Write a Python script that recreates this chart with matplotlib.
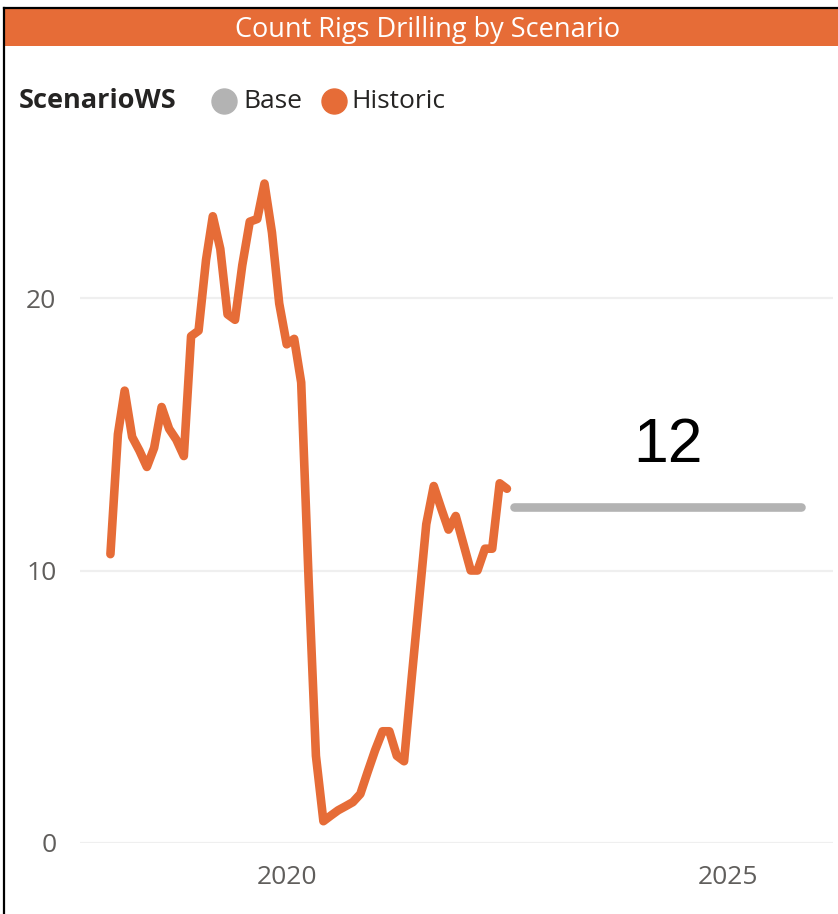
import matplotlib
matplotlib.use("Agg")
import matplotlib.pyplot as plt
import matplotlib.dates as mdates
from matplotlib.lines import Line2D
from matplotlib.patches import Rectangle
import pandas as pd

# figure in pixels
W, H = 838, 914
DPI = 100

ORANGE = "#E66C37"
GREY = "#B3B3B3"
TEXT_GREY = "#605E5C"
FONT = "Open Sans"

# ---- data ----
historic_start = "2018-01-01"
historic_values = [
    10.6, 15.0, 16.6, 14.9, 14.4, 13.8, 14.5, 16.0, 15.2, 14.8,
    14.2, 18.6, 18.8, 21.4, 23.0, 21.8, 19.4, 19.2, 21.2, 22.8,
    22.9, 24.2, 22.4, 19.8, 18.3, 18.5, 16.9, 9.6, 3.2, 0.8,
    1.0, 1.2, 1.35, 1.5, 1.8, 2.6, 3.4, 4.1, 4.1, 3.2,
    3.0, 6.0, 8.8, 11.7, 13.1, 12.3, 11.5, 12.0, 11.0, 10.0,
    10.0, 10.8, 10.8, 13.2, 13.0,
]
historic_dates = pd.date_range(historic_start, periods=len(historic_values), freq="MS")

base_dates = pd.to_datetime(["2022-08-01", "2025-11-01"])
base_values = [12.33, 12.33]
base_label = "12"

y_ticks = [0, 10, 20]
x_tick_years = [2020, 2025]

# ---- figure ----
fig = plt.figure(figsize=(W / DPI, H / DPI), dpi=DPI)
fig.patch.set_facecolor("white")

def px(x, y):
    """pixel (from top-left) -> figure fraction"""
    return x / W, 1 - y / H

# title bar + frame lines
fig.add_artist(Rectangle(px(5, 46), (W - 5) / W, 37 / H, transform=fig.transFigure,
                         facecolor=ORANGE, edgecolor="none"))
fig.add_artist(Line2D([4 / W, 1], [1 - 8 / H, 1 - 8 / H], transform=fig.transFigure,
                      color="black", lw=1.6))
fig.add_artist(Line2D([4 / W, 4 / W], [0, 1 - 8 / H], transform=fig.transFigure,
                      color="black", lw=1.6))
fig.text(*px(428, 30), "Count Rigs Drilling by Scenario", color="white",
         fontsize=19.5, family=FONT, ha="center", va="center")

# legend
fig.text(*px(19, 101), "ScenarioWS", color="#252423", fontsize=19.5,
         family=FONT, fontweight="bold", ha="left", va="center")
for cx, tx, col, lab in [(224, 243, GREY, "Base"), (334, 351, ORANGE, "Historic")]:
    fig.add_artist(Line2D([cx / W], [1 - 101 / H], transform=fig.transFigure,
                          marker="o", markersize=18, color=col, lw=0))
    fig.text(*px(tx, 101), lab, color="#252423", fontsize=19, family=FONT,
             ha="left", va="center")

# axes
ax_left, ax_right, ax_bottom = 80, 833, 843
px_per_unit = 27.25
y_top = 25
ax_top = ax_bottom - y_top * px_per_unit
ax = fig.add_axes([ax_left / W, 1 - ax_bottom / H, (ax_right - ax_left) / W,
                   (ax_bottom - ax_top) / H])
ax.set_facecolor("none")

ax.plot(historic_dates, historic_values, color=ORANGE, lw=6.2,
        solid_joinstyle="round", solid_capstyle="round", zorder=3)
ax.plot(base_dates, base_values, color=GREY, lw=6.2,
        solid_capstyle="round", zorder=3)

# x scale: 2020 tick at pixel 286.7, 88.2 px per year
t2020 = mdates.date2num(pd.Timestamp("2020-01-01"))
days_per_px = 365.25 / 88.2
ax.set_xlim(t2020 - (286.7 - ax_left) * days_per_px,
            t2020 + (ax_right - 286.7) * days_per_px)
ax.set_ylim(0, y_top)

ax.set_yticks(y_ticks)
ax.set_xticks([mdates.date2num(pd.Timestamp(f"{y}-01-01")) for y in x_tick_years])
ax.set_xticklabels([str(y) for y in x_tick_years])
ax.tick_params(length=0, labelcolor=TEXT_GREY, labelsize=19)
ax.tick_params(axis="y", pad=17)
ax.tick_params(axis="x", pad=16)
for lab in ax.get_xticklabels() + ax.get_yticklabels():
    lab.set_family(FONT)

ax.grid(axis="y", color="#EFEFEF", lw=1.6, zorder=0)
ax.grid(axis="x", visible=False)
for s in ax.spines.values():
    s.set_visible(False)

# value label over the base line
fig.text(*px(668, 446), base_label, color="black", fontsize=45,
         family="Liberation Sans", ha="center", va="center")

fig.savefig("out.png", dpi=DPI)
